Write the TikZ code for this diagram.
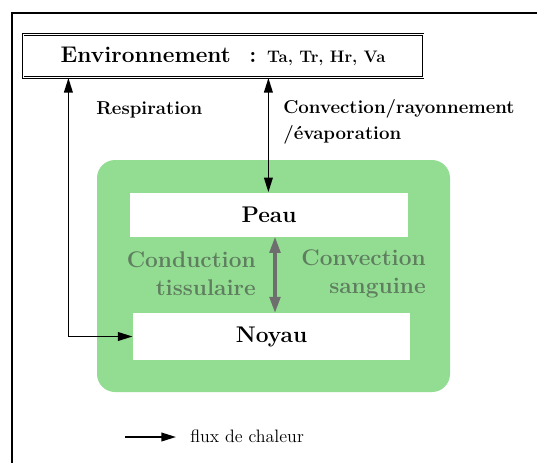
\documentclass[tikz,border=0pt]{standalone}
\usepackage{tikz}
\usetikzlibrary{positioning,arrows.meta,calc}
\definecolor{cBody}{HTML}{93DD93}
\definecolor{cLabel}{HTML}{5F7E5F}
\definecolor{cGrayArr}{HTML}{6E6E6E}

\begin{document}
\begin{tikzpicture}[x=0.75pt,y=-0.75pt,
  every node/.style={align=center, inner sep=0pt},
  envbox/.style={draw=black, double, double distance=0.35pt, line width=0.9pt, fill=white,
    minimum width=300pt, minimum height=32pt,
    font=\bfseries\fontsize{17}{20}\selectfont},
  body/.style={fill=cBody, rounded corners=13.5pt,
    minimum width=264.75pt, minimum height=174pt},
  layer/.style={fill=white, minimum width=208pt, minimum height=33pt,
    font=\bfseries\fontsize{17}{20}\selectfont},
  toplab/.style={font=\bfseries\fontsize{14}{20}\selectfont, align=left},
  inlab/.style={font=\bfseries\fontsize{17}{21}\selectfont, text=cLabel},
  flux/.style={{Triangle[length=11pt,width=6.5pt]}-{Triangle[length=11pt,width=6.5pt]}, line width=1.3pt},
  exch/.style={{Triangle[length=12pt,width=8pt]}-{Triangle[length=12pt,width=8pt]},
    line width=2.4pt, color=cGrayArr}]

  \useasboundingbox (0,0) rectangle (537,462);
  % frame of the figure
  \draw[line width=1.5pt] (12,480) -- (12,13) -- (560,13);

  \node[envbox] (env) at (223,56)
    {Environnement\hspace{14pt}:\hspace{8pt}{\fontsize{12.5}{14}\selectfont Ta, Tr, Hr, Va}};

  \node[body] (corps) at (273.5,276) {};
  \node[layer] (peau) at (269,214.5) {Peau};
  \node[layer, minimum height=35pt] (noyau) at (271.5,336.5) {Noyau};

  \node[toplab, anchor=west] (resp) at (96,110) {Respiration};
  \node[toplab, anchor=north west] (conv) at (283,99)
    {Convection/rayonnement\\/évaporation};

  \node[inlab, align=right, anchor=east] (cond) at (256,274)
    {Conduction\\tissulaire};
  \node[inlab, align=right, anchor=east] (sang) at (426,274)
    {Convection\\sanguine};

  \coordinate (respx) at ($(env.south west)+(46,0)$);
  \coordinate (convx) at ($(env.south west)+(246,0)$);

  \draw[flux] (respx) |- (noyau.west);
  \draw[flux] (convx) -- (convx |- peau.north);
  \draw[exch] ($(peau.south)+(6,0)$) -- ($(noyau.north)+(3.5,0)$);

  % legend
  \coordinate (lega) at (125,437);
  \coordinate (legb) at (176,437);
  \draw[-{Triangle[length=11pt,width=6.5pt]}, line width=1.3pt] (lega) -- (legb);
  \node[anchor=west, font=\fontsize{13.5}{16}\selectfont] (leg) at (190,436) {flux de chaleur};
\end{tikzpicture}
\end{document}
